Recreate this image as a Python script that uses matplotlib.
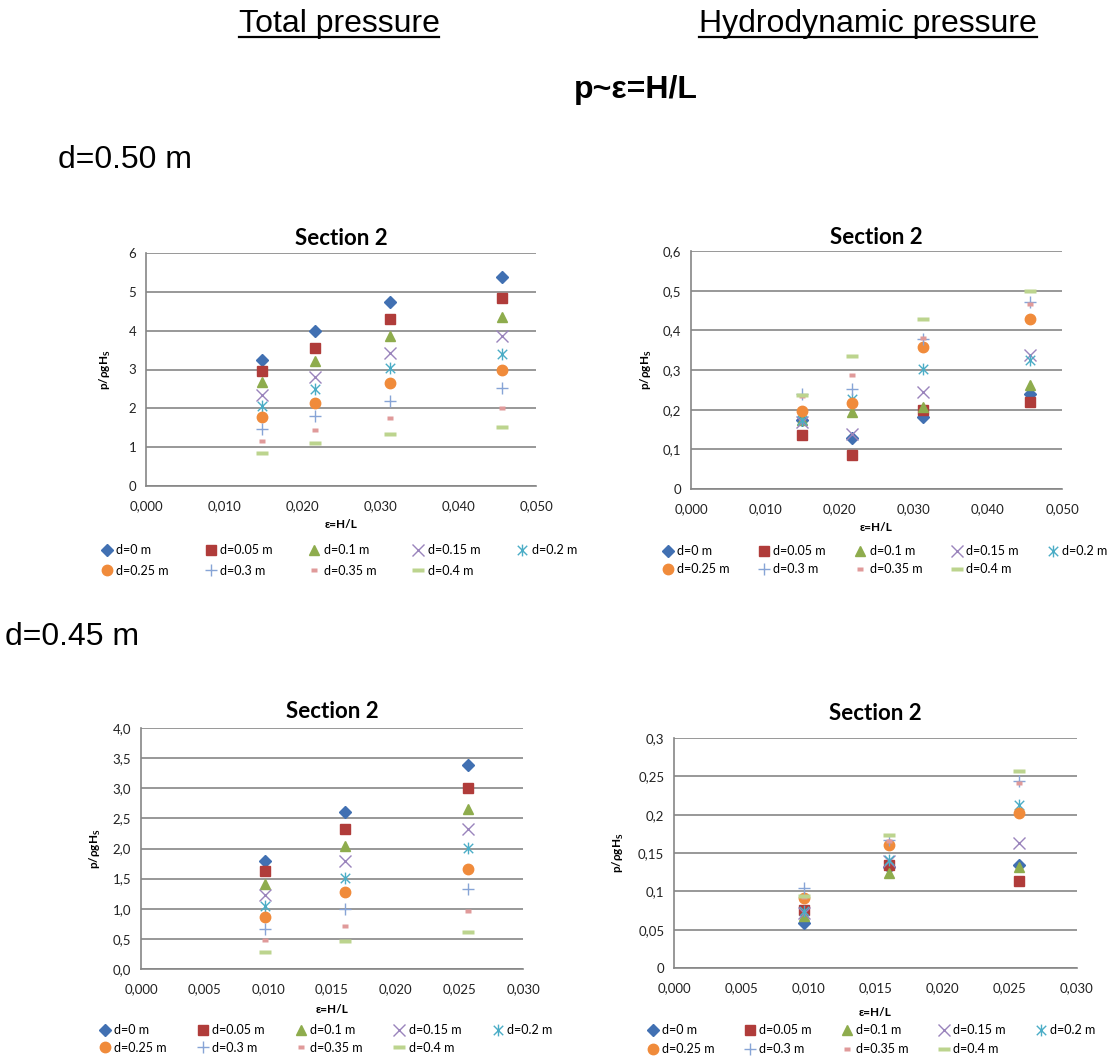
import numpy as np
import matplotlib
matplotlib.use('Agg')
import matplotlib.pyplot as plt
from matplotlib.path import Path
from matplotlib.lines import Line2D
from matplotlib.ticker import MultipleLocator, FuncFormatter

# wave steepness at each test, per water depth
eps_050 = [0.0149, 0.0217, 0.0313, 0.0457]
eps_045 = [0.0097, 0.0160, 0.0257]

depths = ['d=0 m', 'd=0.05 m', 'd=0.1 m', 'd=0.15 m', 'd=0.2 m',
          'd=0.25 m', 'd=0.3 m', 'd=0.35 m', 'd=0.4 m']

# p/rho g Hs, one row per gauge depth
tot_050 = [
    [3.24, 3.98, 4.74, 5.38],
    [2.96, 3.55, 4.30, 4.85],
    [2.67, 3.23, 3.85, 4.36],
    [2.35, 2.80, 3.43, 3.86],
    [2.05, 2.50, 3.03, 3.40],
    [1.78, 2.15, 2.66, 2.99],
    [1.48, 1.80, 2.19, 2.53],
    [1.16, 1.44, 1.74, 2.01],
    [0.86, 1.11, 1.35, 1.52],
]
hyd_050 = [
    [0.173, 0.129, 0.182, 0.240],
    [0.135, 0.085, 0.198, 0.219],
    [0.173, 0.194, 0.207, 0.261],
    [0.169, 0.139, 0.245, 0.337],
    [0.173, 0.228, 0.303, 0.324],
    [0.197, 0.218, 0.358, 0.428],
    [0.240, 0.253, 0.379, 0.471],
    [0.234, 0.287, 0.381, 0.466],
    [0.237, 0.336, 0.428, 0.498],
]
tot_045 = [
    [1.80, 2.60, 3.38],
    [1.62, 2.33, 3.01],
    [1.41, 2.04, 2.65],
    [1.23, 1.79, 2.32],
    [1.05, 1.51, 2.01],
    [0.87, 1.27, 1.66],
    [0.67, 0.99, 1.32],
    [0.48, 0.71, 0.96],
    [0.29, 0.47, 0.61],
]
hyd_045 = [
    [0.0585, 0.132, 0.134],
    [0.076, 0.134, 0.113],
    [0.068, 0.124, 0.132],
    [0.0715, 0.139, 0.163],
    [0.074, 0.141, 0.213],
    [0.091, 0.160, 0.202],
    [0.105, 0.167, 0.244],
    [0.092, 0.166, 0.241],
    [0.094, 0.174, 0.257],
]

# Excel-like marker set
star = Path([(0, -1), (0, 1), (-0.8, -0.8), (0.8, 0.8), (-0.8, 0.8), (0.8, -0.8)],
            [Path.MOVETO, Path.LINETO] * 3)
short_dash = Path([(-1, -0.6), (1, -0.6), (1, 0.6), (-1, 0.6), (-1, -0.6)],
                  [Path.MOVETO, Path.LINETO, Path.LINETO, Path.LINETO, Path.CLOSEPOLY])
long_dash = Path([(-1, -0.33), (1, -0.33), (1, 0.33), (-1, 0.33), (-1, -0.33)],
                 [Path.MOVETO, Path.LINETO, Path.LINETO, Path.LINETO, Path.CLOSEPOLY])

styles = [
    dict(marker='D', ms=5.8, color='#4170b2', mec='#4170b2'),
    dict(marker='s', ms=7.2, color='#b03c3a', mec='#b03c3a'),
    dict(marker='^', ms=7.5, color='#8eac4d', mec='#8eac4d'),
    dict(marker='x', ms=8, color='#9a84bc', mew=1.0),
    dict(marker=star, ms=8.5, color='#4badc6', mew=1.0, mfc='none'),
    dict(marker='o', ms=7.5, color='#f08b3b', mec='#f08b3b'),
    dict(marker='+', ms=9, color='#87a4d6', mew=1.0),
    dict(marker=short_dash, ms=4.5, color='#e09a9a', mec='none'),
    dict(marker=long_dash, ms=8, color='#bcd48e', mec='none'),
]

W, H = 1117, 1060
plt.rcParams['font.family'] = ['Lato', 'DejaVu Sans']

fig = plt.figure(figsize=(W / 100, H / 100), dpi=100)
fig.patch.set_facecolor('white')


def px_box(left, top, right, bottom):
    return [left / W, 1 - bottom / H, (right - left) / W, (bottom - top) / H]


def comma(fmt):
    return FuncFormatter(lambda v, p: (fmt % v).replace('.', ','))


def panel(box, eps, vals, xmax, xstep, ymax, ystep, yfmt, title_pad,
          ylab_x, xlab_y, leg_xy, leg_rows, leg_cols):
    ax = fig.add_axes(px_box(*box))
    for lab, st, v in zip(depths, styles, vals):
        ax.plot(eps, v, ls='none', label=lab, **st)
    ax.set_xlim(0, xmax)
    ax.set_ylim(0, ymax)
    ax.xaxis.set_major_locator(MultipleLocator(xstep))
    ax.yaxis.set_major_locator(MultipleLocator(ystep))
    ax.xaxis.set_major_formatter(comma('%.3f'))
    ax.yaxis.set_major_formatter(comma(yfmt))
    ax.tick_params(length=0, labelsize=9.5, labelcolor='#222222')
    ax.tick_params(axis='x', pad=10.5)
    ax.tick_params(axis='y', pad=7)
    for s in ('top', 'right'):
        ax.spines[s].set_visible(False)
    for s in ('left', 'bottom'):
        ax.spines[s].set_color('#868686')
        ax.spines[s].set_linewidth(1.2)
    ax.yaxis.grid(True, color='#868686', lw=1.2)
    ax.set_axisbelow(True)
    ax.set_title('Section 2', fontsize=16, fontweight='bold', pad=title_pad)
    ax.set_xlabel('ε=H/L', fontsize=8.5, fontweight='bold')
    ax.set_ylabel('p/ρgH$_\\mathregular{S}$', fontsize=8.5, fontweight='bold')
    ax.xaxis.set_label_coords(0.5, xlab_y)
    ax.yaxis.set_label_coords(ylab_x, 0.5)

    # row-major legend: 5 entries on top row, 4 below
    order = [0, 5, 1, 6, 2, 7, 3, 8, 4]
    h, l = ax.get_legend_handles_labels()
    ax.legend([h[i] for i in order], [l[i] for i in order], ncol=5,
              loc='upper left', bbox_to_anchor=(leg_xy[0] / W, 1 - leg_xy[1] / H),
              bbox_transform=fig.transFigure, frameon=False, fontsize=9,
              numpoints=1, handlelength=0.9, handletextpad=0.3,
              columnspacing=leg_cols, labelspacing=leg_rows, borderpad=0,
              borderaxespad=0)
    return ax


panel((146, 253, 536, 486), eps_050, tot_050, 0.05, 0.01, 6, 1, '%.0f', 6,
      -0.085, -0.14, (101, 544), 0.7, 2.9)
panel((691, 251, 1062, 489), eps_050, hyd_050, 0.05, 0.01, 0.6, 0.1, '%g', 5,
      -0.10, -0.14, (662, 545), 0.5, 2.3)
panel((141, 728, 523, 969), eps_045, tot_045, 0.03, 0.005, 4.0, 0.5, '%.1f', 7,
      -0.10, -0.145, (99, 1024), 0.45, 2.45)
panel((674, 738, 1077, 968), eps_045, hyd_045, 0.03, 0.005, 0.3, 0.05, '%g', 13,
      -0.12, -0.17, (647, 1024), 0.55, 2.35)

# page headings
head = dict(family=['Liberation Sans', 'DejaVu Sans'], fontsize=23, va='baseline')
t1 = fig.text(339 / W, 1 - 32 / H, 'Total pressure', ha='center', **head)
t2 = fig.text(868 / W, 1 - 32 / H, 'Hydrodynamic pressure', ha='center', **head)
fig.text(636 / W, 1 - 98 / H, 'p~ε=H/L', ha='center', fontweight='bold', **head)
fig.text(58 / W, 1 - 168 / H, 'd=0.50 m', ha='left', **head)
fig.text(5 / W, 1 - 645 / H, 'd=0.45 m', ha='left', **head)

# underline the two column headings
fig.canvas.draw()
inv = fig.transFigure.inverted()
for t in (t1, t2):
    bb = t.get_window_extent()
    x0, _ = inv.transform((bb.x0, 0))
    x1, _ = inv.transform((bb.x1, 0))
    y = 1 - 37 / H
    fig.add_artist(Line2D([x0, x1], [y, y], color='black', lw=1.6,
                          transform=fig.transFigure))

fig.savefig('out.png', dpi=100, facecolor='white')
